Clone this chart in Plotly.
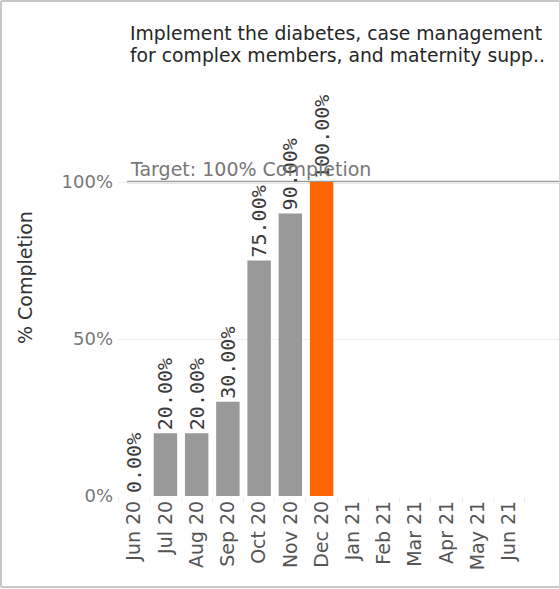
import plotly.graph_objects as go

months = ["Jun 20", "Jul 20", "Aug 20", "Sep 20", "Oct 20", "Nov 20", "Dec 20",
          "Jan 21", "Feb 21", "Mar 21", "Apr 21", "May 21", "Jun 21"]
completion = [0.0, 0.20, 0.20, 0.30, 0.75, 0.90, 1.00, None, None, None, None, None, None]
highlight_month = "Dec 20"
target = 1.0
title_lines = ["Implement the diabetes, case management",
               "for complex members, and maternity supp.."]

GRAY = "#999999"
ORANGE = "#FF6600"
colors = [ORANGE if m == highlight_month else GRAY for m in months]
labels = ["" if v is None else f"{v*100:.2f}%" for v in completion]

W, H = 559, 589
L, R, T, B = 117, 0, 80, 93
pw, ph = W - L - R, H - T - B

def px_x(p):
    return (p - L) / pw

def px_y(p):
    return (H - B - p) / ph

fig = go.Figure()
fig.add_trace(go.Bar(
    x=months, y=completion, marker=dict(color=colors, line=dict(width=0)),
    width=0.75, text=labels, textposition="outside", textangle=-90,
    cliponaxis=False, constraintext="none",
    textfont=dict(family="DejaVu Sans Mono", size=20, color="#3a3a3a"),
    hoverinfo="skip",
))

fig.add_shape(type="line", xref="paper", yref="y", x0=px_x(127), x1=1,
              y0=target, y1=target, line=dict(color="#9a9a9a", width=2.5), layer="below")
fig.add_annotation(xref="paper", yref="y", x=px_x(128), y=target, yshift=0,
                   text="Target: 100% Completion", showarrow=False,
                   xanchor="left", yanchor="bottom",
                   font=dict(family="DejaVu Sans", size=19, color="#777777"))

for i, line in enumerate(title_lines):
    fig.add_annotation(xref="paper", yref="paper", x=px_x(128), y=px_y(33 + 22 * i),
                       text=line, showarrow=False, xanchor="left", yanchor="middle",
                       font=dict(family="DejaVu Sans", size=18.8, color="#262626"))

fig.add_annotation(xref="paper", yref="paper", x=px_x(25), y=px_y(278),
                   text="% Completion", showarrow=False, textangle=-90,
                   xanchor="center", yanchor="middle",
                   font=dict(family="DejaVu Sans", size=19, color="#333333"))

# frame around the image
bc = "#c8c8c8"
for x0, y0, x1, y1 in [(1, 1, 559, 1), (1, 1, 1, 587), (1, 587, 559, 587)]:
    fig.add_shape(type="line", xref="paper", yref="paper",
                  x0=px_x(x0), y0=px_y(y0), x1=px_x(x1), y1=px_y(y1),
                  line=dict(color=bc, width=2))

fig.update_layout(
    width=W, height=H, margin=dict(l=L, r=R, t=T, b=B),
    paper_bgcolor="white", plot_bgcolor="white", showlegend=False,
    uniformtext=dict(minsize=20, mode="show"),
)
fig.update_xaxes(
    type="category", categoryorder="array", categoryarray=months,
    range=[-0.55, 13.6], tickangle=-90, showgrid=False, zeroline=False,
    ticks="outside", tickson="boundaries", ticklen=6, tickcolor="#eeeeee",
    tickfont=dict(family="DejaVu Sans", size=19, color="#555555"),
    showline=False,
)
fig.update_yaxes(
    range=[0, (H - B - T) / 314], tickvals=[0, 0.5, 1.0], ticktext=["0%", "50%", "100%"],
    showgrid=True, gridcolor="#f0f0f0", zeroline=False, showline=False,
    ticks="", ticklabelstandoff=3,
    tickfont=dict(family="DejaVu Sans", size=18, color="#777777"),
)

fig.write_html("out.html", config={"displayModeBar": False},
               post_script="document.body.style.margin='0';")
